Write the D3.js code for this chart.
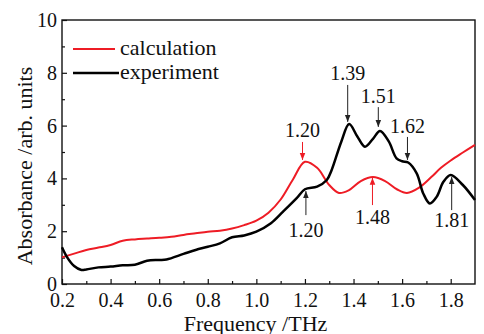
<!DOCTYPE html>
<html>
<head>
<meta charset="utf-8">
<script src="https://cdn.jsdelivr.net/npm/d3@7"></script>
<style>
  body { margin: 0; background: #fff; }
</style>
</head>
<body>
<div id="chart-area"></div>
<script>
// calculation curve (red)
var calcFreq = [0.20, 0.25, 0.30, 0.35, 0.40, 0.45, 0.50, 0.55, 0.60, 0.65, 0.70, 0.75, 0.80, 0.85, 0.90, 0.95,
                1.00, 1.05, 1.10, 1.15, 1.20, 1.25, 1.30, 1.34, 1.38, 1.43, 1.48, 1.53, 1.58, 1.62, 1.67, 1.72,
                1.76, 1.80, 1.85, 1.90];
var calcVals = [1.01, 1.15, 1.29, 1.38, 1.48, 1.64, 1.69, 1.72, 1.75, 1.79, 1.86, 1.92, 1.98, 2.02, 2.10, 2.23,
                2.40, 2.70, 3.20, 3.95, 4.63, 4.40, 3.75, 3.45, 3.55, 3.90, 4.05, 3.90, 3.58, 3.45, 3.65, 4.05,
                4.40, 4.68, 4.98, 5.27];

// experiment curve (black)
var expFreq = [0.20, 0.22, 0.25, 0.28, 0.30, 0.35, 0.40, 0.45, 0.50, 0.55, 0.60, 0.63, 0.70, 0.75, 0.80, 0.85,
               0.90, 0.95, 1.00, 1.06, 1.11, 1.166, 1.20, 1.25, 1.29, 1.31, 1.35, 1.382, 1.415, 1.447, 1.48,
               1.509, 1.545, 1.577, 1.60, 1.625, 1.66, 1.687, 1.714, 1.742, 1.77, 1.80, 1.85, 1.90];
var expVals = [1.39, 1.03, 0.68, 0.53, 0.55, 0.63, 0.66, 0.71, 0.73, 0.88, 0.91, 0.93, 1.14, 1.29, 1.41, 1.54,
               1.77, 1.84, 1.98, 2.30, 2.74, 3.25, 3.59, 3.69, 3.94, 4.32, 5.40, 6.06, 5.60, 5.20, 5.50,
               5.80, 5.40, 4.76, 4.65, 4.60, 4.19, 3.43, 3.05, 3.30, 3.87, 4.13, 3.75, 3.18];

var xTicks = [0.2, 0.4, 0.6, 0.8, 1.0, 1.2, 1.4, 1.6, 1.8];
var yTicks = [0, 2, 4, 6, 8, 10];

// peak annotations: label, frequency, label baseline / arrow tail / arrow tip (in absorbance units)
var annText  = ["1.20", "1.39", "1.51", "1.62", "1.20", "1.48", "1.81"];
var annFreq  = [1.19, 1.376, 1.502, 1.622, 1.204, 1.478, 1.804];
var annLabel = [5.57, 7.73, 6.86, 5.72, 1.78, 2.27, 2.16];
var annTail  = [5.38, 7.54, 6.70, 5.57, 2.61, 2.99, 2.80];
var annTip   = [4.70, 6.14, 5.95, 4.70, 3.52, 4.02, 4.05];
var annSeries = ["calc", "exp", "exp", "exp", "exp", "calc", "exp"];

var seriesNames = ["calculation", "experiment"];

var W = 484, H = 334;
var margin = { left: 62, right: 9, top: 20, bottom: 50 };
var width = W - margin.left - margin.right;
var height = H - margin.top - margin.bottom;

var FONT = "'Liberation Serif', 'Times New Roman', serif";
var red = "#ee1c25", black = "#000";
var colorOf = { calc: red, exp: "#222" };

var svg = d3.select("#chart-area")
    .append("svg")
    .attr("width", W)
    .attr("height", H);

var defs = svg.append("defs");
["calc", "exp"].forEach(function(k) {
    defs.append("marker")
        .attr("id", "arrow-" + k)
        .attr("viewBox", "0 0 10 10")
        .attr("refX", 10).attr("refY", 5)
        .attr("markerWidth", 7).attr("markerHeight", 7)
        .attr("markerUnits", "userSpaceOnUse")
        .attr("orient", "auto")
        .append("path")
        .attr("d", "M0,1 L10,5 L0,9 z")
        .attr("fill", colorOf[k]);
});

var g = svg.append("g")
    .attr("transform", "translate(" + margin.left + "," + margin.top + ")");

var x = d3.scaleLinear().domain([0.2, 1.9]).range([0, width]);
var y = d3.scaleLinear().domain([0, 10]).range([height, 0]);

// minor ticks
var xMinor = d3.range(0.3, 1.9, 0.2);
var yMinor = d3.range(1, 10, 2);

var xAxis = g.append("g")
    .attr("transform", "translate(0," + height + ")")
    .call(d3.axisBottom(x).tickValues(xTicks).tickFormat(d3.format(".1f")).tickSizeInner(-5).tickSizeOuter(0).tickPadding(9));
g.append("g")
    .attr("transform", "translate(0," + height + ")")
    .call(d3.axisBottom(x).tickValues(xMinor).tickFormat("").tickSizeInner(-3).tickSizeOuter(0));

var yAxis = g.append("g")
    .call(d3.axisLeft(y).tickValues(yTicks).tickFormat(d3.format("d")).tickSizeInner(-5).tickSizeOuter(0).tickPadding(5));
g.append("g")
    .call(d3.axisLeft(y).tickValues(yMinor).tickFormat("").tickSizeInner(-3).tickSizeOuter(0));

g.selectAll(".tick line").attr("stroke", "#111").attr("stroke-width", 1.2);
g.selectAll(".domain").remove();
xAxis.selectAll("text").attr("font-family", FONT).style("font-size", "20px").attr("fill", "#111").attr("dy", "0.71em");
yAxis.selectAll("text").attr("font-family", FONT).style("font-size", "20px").attr("fill", "#111");

// frame
g.append("rect")
    .attr("width", width).attr("height", height)
    .attr("fill", "none").attr("stroke", "#111").attr("stroke-width", 1.4);

// curves
var line = d3.line()
    .x(function(d) { return x(d[0]); })
    .y(function(d) { return y(d[1]); })
    .curve(d3.curveCatmullRom.alpha(0.5));

var plot = g.append("g");
plot.append("path")
    .datum(calcFreq.map(function(f, i) { return [f, calcVals[i]]; }))
    .attr("d", line)
    .attr("fill", "none").attr("stroke", red).attr("stroke-width", 2);
plot.append("path")
    .datum(expFreq.map(function(f, i) { return [f, expVals[i]]; }))
    .attr("d", line)
    .attr("fill", "none").attr("stroke", black).attr("stroke-width", 2.5);

// annotations
annText.forEach(function(t, i) {
    var k = annSeries[i];
    g.append("line")
        .attr("x1", x(annFreq[i])).attr("x2", x(annFreq[i]))
        .attr("y1", y(annTail[i])).attr("y2", y(annTip[i]))
        .attr("stroke", colorOf[k]).attr("stroke-width", 1)
        .attr("marker-end", "url(#arrow-" + k + ")");
    g.append("text")
        .attr("x", x(annFreq[i]))
        .attr("y", y(annLabel[i]))
        .attr("text-anchor", "middle")
        .attr("font-family", FONT)
        .attr("fill", "#111")
        .style("font-size", "20px")
        .text(t);
});

// legend
var legend = g.append("g");
seriesNames.forEach(function(name, i) {
    var ly = 29 + i * 24;
    legend.append("line")
        .attr("x1", 11).attr("x2", i === 0 ? 53 : 57)
        .attr("y1", ly).attr("y2", ly)
        .attr("stroke", i === 0 ? red : black)
        .attr("stroke-width", i === 0 ? 2 : 2.5);
    legend.append("text")
        .attr("x", 58).attr("y", ly + 6)
        .attr("font-family", FONT)
        .attr("fill", "#111")
        .style("font-size", "22px")
        .text(name);
});

// axis titles
svg.append("text")
    .attr("x", margin.left + width / 2 - 13)
    .attr("y", 331)
    .attr("text-anchor", "middle")
    .attr("font-family", FONT)
    .attr("fill", "#111")
    .style("font-size", "22px")
    .text("Frequency /THz");

svg.append("text")
    .attr("transform", "translate(32," + (margin.top + height / 2 + 14) + ") rotate(-90)")
    .attr("text-anchor", "middle")
    .attr("font-family", FONT)
    .attr("fill", "#111")
    .style("font-size", "22px")
    .text("Absorbance /arb. units");
</script>
</body>
</html>
